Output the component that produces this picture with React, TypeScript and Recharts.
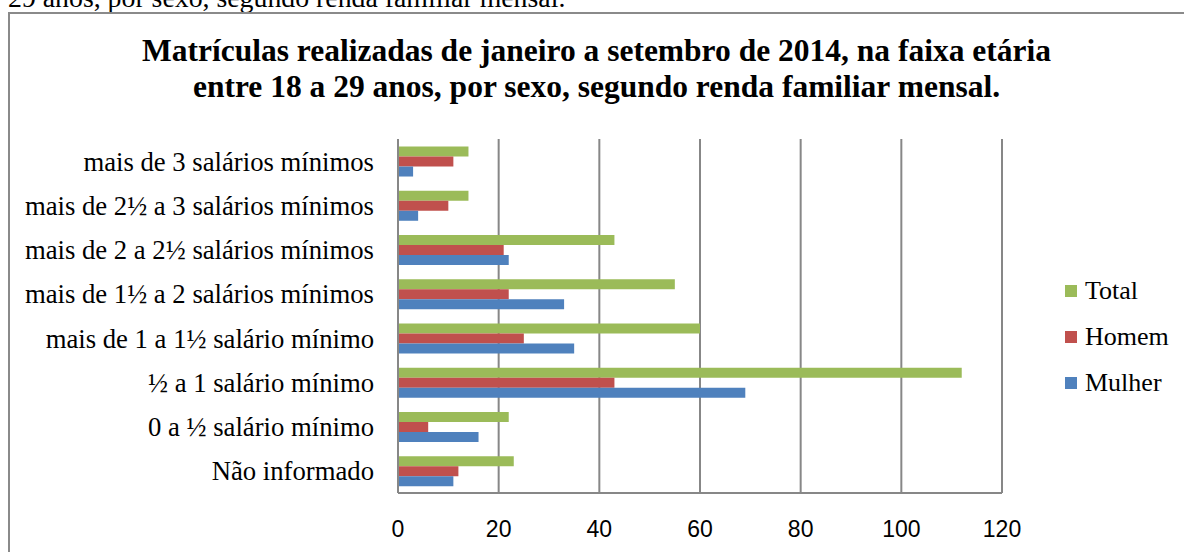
import React from "react";
import { BarChart, Bar, XAxis, YAxis, CartesianGrid, Legend } from "recharts";

const categories = [
  "mais de 3 salários mínimos",
  "mais de 2½ a 3 salários mínimos",
  "mais de 2 a 2½ salários mínimos",
  "mais de 1½ a 2 salários mínimos",
  "mais de 1 a 1½ salário mínimo",
  "½ a 1 salário mínimo",
  "0 a ½ salário mínimo",
  "Não informado",
];
const totalValues = [14, 14, 43, 55, 60, 112, 22, 23];
const homemValues = [11, 10, 21, 22, 25, 43, 6, 12];
const mulherValues = [3, 4, 22, 33, 35, 69, 16, 11];
const xTicks = [0, 20, 40, 60, 80, 100, 120];
const seriesOrder = ["Total", "Homem", "Mulher"];

const data = categories.map((cat, i) => ({
  cat,
  Total: totalValues[i],
  Homem: homemValues[i],
  Mulher: mulherValues[i],
}));

const SERIF = "'Liberation Serif', 'Times New Roman', serif";
const GRID = "#878787";

const renderLegend = (props: any) => {
  const payload = [...(props.payload || [])].sort(
    (a: any, b: any) => seriesOrder.indexOf(a.value) - seriesOrder.indexOf(b.value)
  );
  return (
    <div style={{ fontFamily: SERIF, fontSize: 26, color: "#000" }}>
      {payload.map((p: any) => (
        <div
          key={p.value}
          style={{ display: "flex", alignItems: "center", height: 46, lineHeight: "46px" }}
        >
          <span
            style={{
              display: "inline-block",
              width: 12,
              height: 12,
              background: p.color,
              marginRight: 8,
            }}
          />
          <span style={{ fontFamily: SERIF, fontSize: 26 }}>{p.value}</span>
        </div>
      ))}
    </div>
  );
};

export default function App() {
  return (
    <div
      style={{
        position: "fixed",
        left: 0,
        top: 0,
        width: 1184,
        height: 552,
        overflow: "hidden",
        background: "#fff",
      }}
    >
      <div
        style={{
          position: "absolute",
          left: 8,
          top: -16,
          whiteSpace: "nowrap",
          fontFamily: SERIF,
          fontSize: 27.8,
          lineHeight: "27px",
          color: "#000",
        }}
      >
        29 anos, por sexo, segundo renda familiar mensal.
      </div>
      <div
        style={{
          position: "absolute",
          left: 8,
          top: 12,
          width: 1300,
          height: 700,
          border: "2px solid #8a8a8a",
          boxSizing: "border-box",
        }}
      />
      <div
        style={{
          position: "absolute",
          left: 0,
          top: 33,
          width: 1193,
          textAlign: "center",
          fontFamily: SERIF,
          fontWeight: "bold",
          fontSize: 31.5,
          lineHeight: "36px",
          color: "#000",
        }}
      >
        Matrículas realizadas de janeiro a setembro de 2014, na faixa etária
        <br />
        entre 18 a 29 anos, por sexo, segundo renda familiar mensal.
      </div>
      <div style={{ position: "absolute", left: 0, top: 0 }}>
        <BarChart
          width={1184}
          height={552}
          data={data}
          layout="vertical"
          margin={{ top: 139, right: 182, bottom: 9, left: 0 }}
          barCategoryGap="17%"
          barGap={0}
        >
          <CartesianGrid horizontal={false} stroke={GRID} strokeWidth={2} />
          <XAxis
            type="number"
            domain={[0, 120]}
            ticks={xTicks}
            interval={0}
            tickLine={false}
            tickSize={0}
            tickMargin={28}
            height={50}
            axisLine={{ stroke: GRID, strokeWidth: 2 }}
            tick={{ fontFamily: "'Liberation Sans', Arial, sans-serif", fontSize: 23, fill: "#000" }}
          />
          <YAxis
            type="category"
            dataKey="cat"
            width={398}
            interval={0}
            tickLine={false}
            tickSize={0}
            tickMargin={24}
            axisLine={{ stroke: GRID, strokeWidth: 2 }}
            tick={{ fontFamily: SERIF, fontSize: 26.7, fill: "#000" }}
          />
          <Legend
            layout="vertical"
            align="center"
            verticalAlign="middle"
            content={renderLegend}
            wrapperStyle={{ left: 1065, top: 268, width: 119 }}
          />
          <Bar dataKey="Total" fill="#9BBB59" isAnimationActive={false} />
          <Bar dataKey="Homem" fill="#C0504D" isAnimationActive={false} />
          <Bar dataKey="Mulher" fill="#4F81BD" isAnimationActive={false} />
        </BarChart>
      </div>
    </div>
  );
}
